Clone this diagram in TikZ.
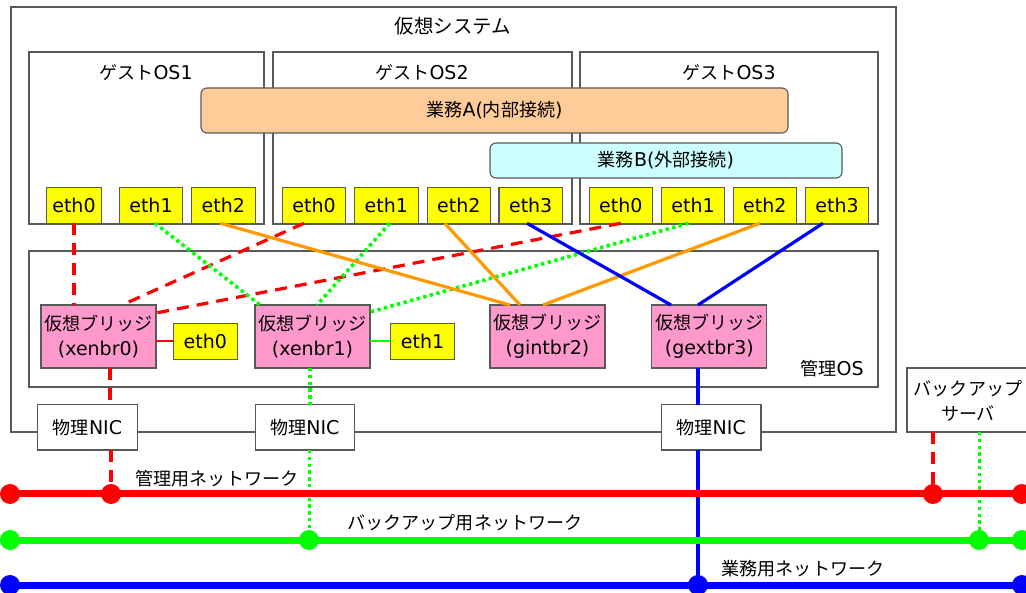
\documentclass[tikz,border=0pt]{standalone}
\usepackage{fontspec}
\setmainfont{DejaVu Sans}
\newfontfamily\jpf{Noto Sans CJK JP}[Scale=0.95]
\newcommand\J[1]{{\jpf #1}}
\usetikzlibrary{calc}
\definecolor{frameC}{HTML}{595959}
\definecolor{portC}{HTML}{FFFF00}
\definecolor{pinkC}{HTML}{FF99CC}
\definecolor{taskAC}{HTML}{FFCC99}
\definecolor{taskBC}{HTML}{CCFFFF}
\definecolor{netR}{HTML}{FF0000}
\definecolor{netG}{HTML}{00FF00}
\definecolor{netB}{HTML}{0000FF}
\definecolor{orgC}{HTML}{FF9900}
\tikzset{
  frame/.style={draw=frameC, line width=1.1pt, fill=white, inner sep=0pt, outer sep=0pt},
  lbl/.style={inner sep=0pt, text=black},
  port/.style={draw=frameC, line width=1.1pt, fill=portC, minimum width=63.5pt, minimum height=35.5pt, inner sep=0pt, outer sep=0pt},
  bridge/.style={draw=frameC, line width=1.1pt, fill=pinkC, minimum width=115pt, minimum height=63pt, inner sep=0pt, outer sep=0pt, align=center},
  nicbox/.style={draw=frameC, line width=1.1pt, fill=white, minimum width=99.5pt, minimum height=45.5pt, inner sep=0pt, outer sep=0pt},
  task/.style={draw=frameC, line width=1.1pt, rounded corners=6pt, inner sep=0pt, outer sep=0pt},
  redcon/.style={draw=netR, line width=3.2pt, dash pattern=on 12pt off 8pt},
  grncon/.style={draw=netG, line width=3.6pt, dash pattern=on 3.4pt off 3.4pt},
  orgcon/.style={draw=orgC, line width=3.2pt},
  blucon/.style={draw=netB, line width=3.2pt},
  thinlink/.style={line width=2pt},
  netline/.style={line width=7pt},
}
\begin{document}
\begin{tikzpicture}[x=1pt,y=-1pt, font=\fontsize{19}{25}\selectfont]
\useasboundingbox (0,0) rectangle (1026,593);

% frames
\node[frame, minimum width=885pt, minimum height=425pt] (sys) at (453.5,219.5) {};
\node[lbl] (systitle) at (453,26) {\fontsize{20.5}{21}\selectfont\J{仮想システム}};
\node[frame, minimum width=235pt, minimum height=172pt] (os1) at (146.5,138) {};
\node[frame, minimum width=299pt, minimum height=172pt] (os2) at (422.5,138) {};
\node[frame, minimum width=298pt, minimum height=172pt] (os3) at (729,138) {};
\node[lbl] (os1t) at (146,73) {\J{ゲスト}OS1};
\node[lbl] (os2t) at (422,73) {\J{ゲスト}OS2};
\node[lbl] (os3t) at (729,73) {\J{ゲスト}OS3};
\node[task, fill=taskAC, minimum width=587pt, minimum height=45pt] (taskA) at (494.5,110.5) {\J{業務}A(\J{内部接続})};
\node[task, fill=taskBC, minimum width=352pt, minimum height=35pt] (taskB) at (666,160.5) {\J{業務}B(\J{外部接続})};
\node[frame, minimum width=849pt, minimum height=136pt] (mgmt) at (453.5,319) {};
\node[lbl] (mgmtt) at (832,369) {\J{管理}OS};
\node[frame, minimum width=140pt, minimum height=64pt] (backup) at (977,400) {};
\node[lbl, align=center] (backupt) at (968,401) {\J{バックアップ}\\\J{サーバ}};

% guest ports
\node[port, minimum width=55pt] (a0) at (74,205.5) {eth0};
\node[port] (a1) at (151,205.5) {eth1};
\node[port] (a2) at (223.3,205.5) {eth2};
\node[port] (b0) at (314,205.5) {eth0};
\node[port] (b1) at (386.3,205.5) {eth1};
\node[port] (b2) at (458.8,205.5) {eth2};
\node[port] (b3) at (530.7,205.5) {eth3};
\node[port] (c0) at (620.8,205.5) {eth0};
\node[port] (c1) at (693,205.5) {eth1};
\node[port] (c2) at (764.8,205.5) {eth2};
\node[port] (c3) at (837,205.5) {eth3};

% bridges
\node[bridge] (br0) at (98.5,336.5) {\J{仮想ブリッジ}\\(xenbr0)};
\node[bridge] (br1) at (312.5,336.5) {\J{仮想ブリッジ}\\(xenbr1)};
\node[bridge] (br2) at (547.5,336.5) {\J{仮想ブリッジ}\\(gintbr2)};
\node[bridge] (br3) at (709.3,336.5) {\J{仮想ブリッジ}\\(gextbr3)};
\node[port, minimum height=36pt] (m0) at (205.3,341.5) {eth0};
\node[port, minimum height=36pt] (m1) at (422.5,341.5) {eth1};

% physical NICs
\node[nicbox] (nic1) at (87.5,427.3) {\J{物理}NIC};
\node[nicbox] (nic2) at (304.8,427.3) {\J{物理}NIC};
\node[nicbox] (nic3) at (711.2,427.3) {\J{物理}NIC};

% network points
\coordinate (rL) at (10,494); \coordinate (rA) at (111,494); \coordinate (rB) at (933,494); \coordinate (rR) at (1022,494); \coordinate (rE) at (1045,494);
\coordinate (gL) at (10,540); \coordinate (gA) at (309,540); \coordinate (gB) at (979,540); \coordinate (gR) at (1022,540); \coordinate (gE) at (1045,540);
\coordinate (bL) at (10,585); \coordinate (bA) at (698,585); \coordinate (bR) at (1022,585); \coordinate (bE) at (1045,585);

% red (management) connectors
\draw[redcon] (a0.south) -- (a0.south |- br0.north);
\draw[redcon] ([xshift=-10pt]b0.south) -- ([xshift=23.5pt]br0.north);
\draw[redcon] (c0.south) -- ([yshift=23.5pt]br0.east);
\draw[netR, thinlink] (m0.west -| br0.east) -- (m0.west);
\draw[redcon] ([xshift=11.5pt]br0.south) -- ([xshift=11.5pt]br0.south |- nic1.north);
\draw[redcon] (nic1.south -| rA) -- (rA);
\draw[redcon] (backup.south -| rB) -- (rB);

% green (backup) connectors
\draw[grncon] ([xshift=4pt]a1.south) -- ([xshift=-52.5pt]br1.north);
\draw[grncon] ([xshift=3.5pt]b1.south) -- ([xshift=4.5pt]br1.north);
\draw[grncon] ([xshift=-4.5pt]c1.south) -- ([yshift=24.5pt]br1.east);
\draw[netG, thinlink] (m1.west -| br1.east) -- (m1.west);
\draw[grncon] ([xshift=-2.5pt]br1.south) -- ([xshift=-2.5pt]br1.south |- nic2.north);
\draw[grncon, line width=3pt] (nic2.south -| gA) -- (gA);
\draw[grncon, line width=3pt] (backup.south -| gB) -- (gB);

% orange (internal)
\draw[orgcon] ([xshift=-3pt]a2.south) -- ([xshift=-37.5pt]br2.north);
\draw[orgcon] ([xshift=-14pt]b2.south) -- ([xshift=-27.5pt]br2.north);
\draw[orgcon] ([xshift=-4.8pt]c2.south) -- ([xshift=-4.5pt]br2.north);

% blue (external)
\draw[blucon] ([xshift=-3.7pt]b3.south) -- ([xshift=-38.3pt]br3.north);
\draw[blucon] ([xshift=-14pt]c3.south) -- ([xshift=-11.3pt]br3.north);
\draw[blucon] ([xshift=-11.3pt]br3.south) -- ([xshift=-11.3pt]br3.south |- nic3.north);
\draw[blucon] (nic3.south -| bA) -- (bA);

% networks
\draw[netR, netline] (rL) -- (rE);
\draw[netG, netline] (gL) -- (gE);
\draw[netB, netline] (bL) -- (bE);
\foreach \p in {rL,rA,rB,rR} \fill[netR] (\p) circle[radius=10pt];
\foreach \p in {gL,gA,gB,gR} \fill[netG] (\p) circle[radius=10pt];
\foreach \p in {bL,bA,bR} \fill[netB] (\p) circle[radius=10pt];
\node[lbl] (netRt) at (217,479) {\J{管理用ネットワーク}};
\node[lbl] (netGt) at (465,523) {\J{バックアップ用ネットワーク}};
\node[lbl] (netBt) at (803,569) {\J{業務用ネットワーク}};
\end{tikzpicture}
\end{document}
